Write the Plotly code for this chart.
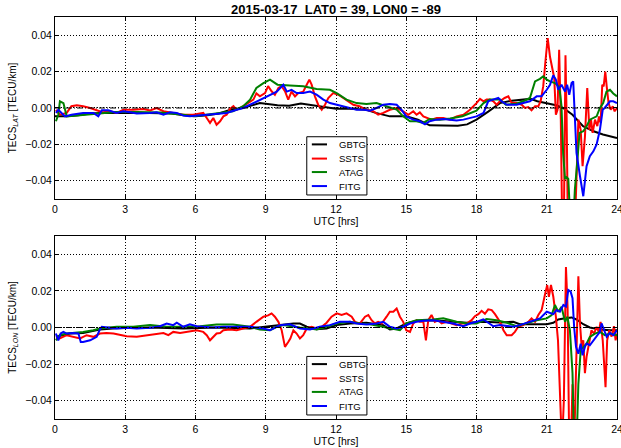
import plotly.graph_objects as go

# ---------------- data ----------------
TITLE = "2015-03-17\u00a0\u00a0LAT0 = 39, LON0 = -89"
SERIES = ["GBTG", "SSTS", "ATAG", "FITG"]
COLORS = ["#000000", "#ff0000", "#008000", "#0000ff"]
HOUR_TICKS = [0, 3, 6, 9, 12, 15, 18, 21, 24]
Y_TICKS = [-0.04, -0.02, 0.0, 0.02, 0.04]

# (UTC hour, TECS_LAT value)
LAT_GBTG = [(0.0, -0.0045), (0.5, -0.0045), (1.0, -0.004), (1.5, -0.003), (2.0, -0.0027), (3.0, -0.0025),
            (4.0, -0.0027), (5.0, -0.003), (5.5, -0.004), (6.0, -0.0045), (6.5, -0.004), (7.0, -0.003),
            (7.5, -0.001), (8.0, 0.0), (8.4, 0.0015), (8.75, 0.0027), (9.5, 0.0015), (10.0, 0.0012),
            (10.5, 0.0025), (11.2, 0.001), (12.0, -0.0004), (12.6, -0.0004), (13.3, -0.001), (13.7, -0.0027),
            (14.3, -0.0046), (15.0, -0.0046), (15.5, -0.0064), (16.0, -0.0095), (16.5, -0.0097),
            (17.2, -0.0097), (17.6, -0.009), (18.0, -0.0064), (18.5, -0.002), (19.0, 0.0027), (19.5, 0.004),
            (20.0, 0.0045), (20.3, 0.005), (20.6, 0.0037), (21.0, 0.0027), (21.4, 0.0015), (21.7, 0.0),
            (22.1, -0.0037), (22.55, -0.010), (23.0, -0.0128), (23.4, -0.0146), (24.0, -0.0165)]
LAT_SSTS = [(0.04, -0.001), (0.2, -0.0037), (0.5, -0.0027), (0.7, 0.001), (0.93, 0.0015), (1.2, 0.001),
            (1.5, 0.0), (1.78, -0.001), (2.06, -0.0024), (2.35, -0.0018), (2.63, -0.0027), (2.92, -0.001),
            (3.34, -0.001), (3.77, -0.0005), (4.06, -0.0013), (4.34, 0.0), (4.63, -0.0018), (5.05, -0.0027),
            (5.48, -0.0037), (5.9, -0.0037), (6.33, -0.0027), (6.48, -0.0055), (6.62, -0.0082),
            (6.76, -0.0055), (6.9, -0.0092), (7.05, -0.0073), (7.19, -0.0046), (7.33, -0.0037),
            (7.47, -0.0005), (7.62, 0.001), (7.76, -0.001), (8.04, 0.001), (8.33, 0.0037), (8.47, 0.0046),
            (8.6, 0.008), (8.75, 0.0064), (8.97, 0.0082), (9.1, 0.012), (9.25, 0.0092), (9.39, 0.0073),
            (9.54, 0.011), (9.68, 0.012), (9.82, 0.0092), (9.96, 0.0046), (10.1, 0.009), (10.25, 0.0064),
            (10.39, 0.0082), (10.6, 0.009), (10.75, 0.0128), (10.86, 0.0156), (10.96, 0.0128),
            (11.1, 0.0064), (11.24, 0.0018), (11.39, -0.001), (11.53, 0.0018), (11.67, 0.0055),
            (11.88, 0.0082), (12.1, 0.0073), (12.31, 0.0055), (12.52, 0.0037), (12.74, 0.0018),
            (13.0, 0.001), (13.3, -0.001), (13.59, -0.0018), (13.8, -0.0037), (14.02, -0.0027),
            (14.3, -0.001), (14.59, 0.0), (14.87, -0.0018), (15.09, -0.0037), (15.3, -0.0018),
            (15.44, -0.0037), (15.58, -0.0024), (15.73, -0.0046), (15.87, -0.0055), (16.08, -0.0064),
            (16.3, -0.0055), (16.58, -0.0055), (16.87, -0.0064), (17.15, -0.0046), (17.44, -0.0037),
            (17.72, -0.001), (18.0, 0.0027), (18.15, 0.005), (18.3, 0.0037), (18.43, 0.0046),
            (18.57, 0.0046), (18.72, 0.0037), (18.86, 0.0018), (19.0, 0.0037), (19.2, 0.0055),
            (19.36, 0.0064), (19.5, 0.0027), (19.71, 0.0027), (19.93, 0.0018), (20.07, 0.0), (20.21, 0.0005),
            (20.35, -0.0013), (20.5, 0.001), (20.64, 0.001), (20.74, 0.0037), (20.85, 0.012),
            (20.95, 0.0265), (21.04, 0.0384), (21.14, 0.028), (21.24, 0.021), (21.32, 0.0165),
            (21.39, -0.0037), (21.46, -0.001), (21.53, 0.032), (21.6, -0.006), (21.66, -0.065),
            (21.73, -0.065), (21.8, 0.029), (21.85, -0.006), (21.9, -0.065), (22.2, -0.065),
            (22.27, -0.039), (22.35, -0.0064), (22.45, -0.012), (22.53, -0.032), (22.63, -0.016),
            (22.73, 0.011), (22.82, -0.012), (22.89, -0.0064), (22.96, -0.0137), (23.06, -0.0064),
            (23.16, -0.010), (23.23, -0.0046), (23.3, -0.0082), (23.37, 0.0128), (23.43, 0.0119),
            (23.5, 0.020), (23.56, 0.0119), (23.64, 0.0027), (23.73, -0.001), (23.82, 0.0009),
            (23.9, -0.0018), (24.0, 0.0)]
LAT_ATAG = [(0.04, -0.0073), (0.14, -0.0037), (0.21, 0.0037), (0.36, 0.0027), (0.5, -0.0046), (0.8, -0.0042),
            (1.2, -0.004), (1.7, -0.003), (2.6, -0.0022), (3.5, -0.0022), (4.5, -0.0025), (5.48, -0.0037),
            (5.9, -0.0046), (6.3, -0.004), (7.2, -0.0027), (7.6, -0.0018), (8.04, 0.001), (8.33, 0.0046),
            (8.6, 0.011), (8.9, 0.0137), (9.18, 0.0156), (9.5, 0.0128), (10.03, 0.0124), (10.6, 0.012),
            (11.17, 0.0104), (11.74, 0.010), (12.03, 0.0082), (12.45, 0.0046), (12.88, 0.0027),
            (13.3, 0.0022), (13.73, 0.0027), (14.16, 0.001), (14.59, -0.0009), (14.87, -0.0046),
            (15.16, -0.0073), (15.44, -0.0073), (15.73, -0.0082), (16.0, -0.006), (16.44, -0.0064),
            (16.87, -0.0058), (17.4, -0.0045), (18.0, -0.0015), (18.3, 0.0027), (18.57, 0.0046),
            (19.0, 0.0046), (19.25, 0.0018), (19.7, 0.0024), (20.0, 0.0037), (20.28, 0.0055),
            (20.5, 0.0146), (20.71, 0.016), (20.85, 0.0174), (21.0, 0.0156), (21.14, 0.0146),
            (21.35, 0.0137), (21.5, 0.012), (21.56, 0.009), (21.63, 0.001), (21.7, -0.025), (21.78, -0.039),
            (21.85, -0.038), (21.92, -0.039), (22.02, -0.065), (22.13, -0.065), (22.2, -0.045),
            (22.3, -0.03), (22.4, -0.0137), (22.56, -0.0128), (22.7, -0.010), (22.84, -0.0064),
            (22.99, -0.0055), (23.13, -0.0046), (23.27, 0.0), (23.41, 0.0027), (23.55, 0.009),
            (23.7, 0.010), (23.84, 0.008), (24.0, 0.0064)]
LAT_FITG = [(0.04, -0.0027), (0.14, -0.001), (0.28, -0.0027), (0.43, -0.0046), (0.7, -0.0037), (0.93, -0.0033),
            (1.2, -0.0027), (1.64, -0.0027), (1.85, -0.0046), (2.0, -0.0013), (2.28, -0.0013),
            (2.63, -0.0027), (2.92, -0.0018), (3.2, -0.0024), (3.49, -0.003), (4.06, -0.0027),
            (4.34, -0.0024), (4.63, -0.0037), (4.91, -0.0024), (5.2, -0.0027), (5.48, -0.0042),
            (5.76, -0.0046), (6.05, -0.0042), (6.48, -0.0037), (6.9, -0.0033), (7.33, -0.0027),
            (7.76, -0.001), (8.04, 0.0), (8.33, 0.0018), (8.75, 0.0046), (9.18, 0.0073), (9.47, 0.009),
            (9.75, 0.0128), (9.9, 0.009), (10.1, 0.010), (10.32, 0.0082), (10.6, 0.0082), (10.89, 0.009),
            (11.17, 0.0073), (11.46, 0.0046), (11.74, 0.0027), (12.03, 0.0018), (12.31, 0.001),
            (12.6, 0.0), (12.88, -0.001), (13.2, -0.001), (13.45, -0.0015), (13.73, 0.0), (14.02, 0.0018),
            (14.3, 0.0022), (14.59, 0.0018), (14.8, -0.001), (15.0, -0.0046), (15.3, -0.0064),
            (15.58, -0.0073), (15.8, -0.009), (16.0, -0.0073), (16.3, -0.0064), (16.6, -0.006),
            (16.87, -0.0064), (17.15, -0.0069), (17.44, -0.0064), (17.72, -0.0055), (18.0, -0.0046),
            (18.3, -0.0027), (18.5, 0.0037), (18.7, 0.0046), (18.93, 0.0055), (19.07, 0.0037),
            (19.3, 0.0018), (19.71, 0.0018), (20.0, 0.0027), (20.28, 0.0037), (20.57, 0.0064),
            (20.78, 0.0064), (21.0, 0.010), (21.14, 0.0128), (21.28, 0.018), (21.39, 0.0156),
            (21.49, 0.010), (21.63, 0.0128), (21.78, 0.009), (21.87, 0.0128), (21.96, 0.0073),
            (22.06, 0.0137), (22.13, 0.0146), (22.2, -0.0064), (22.27, -0.0247), (22.42, -0.0375),
            (22.56, -0.0485), (22.7, -0.032), (22.84, -0.0265), (22.99, -0.0238), (23.13, -0.020),
            (23.27, -0.012), (23.39, -0.001), (23.47, 0.0), (23.56, 0.0013), (23.7, 0.0037),
            (23.84, 0.0037), (24.0, 0.0027)]

# (UTC hour, TECS_LON value)
LON_GBTG = [(0.04, -0.0051), (0.36, -0.0042), (0.64, -0.0033), (1.2, -0.003), (1.64, -0.0018), (1.92, -0.0011),
            (2.63, -0.0004), (3.34, 0.0), (4.06, 0.0), (5.48, -0.0005), (6.9, 0.0), (8.33, -0.0005),
            (8.9, 0.0004), (9.75, 0.0016), (10.18, 0.0022), (10.46, 0.0022), (10.75, 0.0004),
            (11.17, -0.0009), (11.6, -0.0005), (12.03, 0.0013), (12.6, 0.0022), (13.3, 0.0026),
            (14.02, 0.0013), (14.3, -0.0011), (14.59, -0.0005), (15.0, 0.0022), (15.44, 0.0037),
            (16.15, 0.004), (16.87, 0.0031), (17.58, 0.0026), (18.3, 0.0031), (19.0, 0.0028),
            (19.57, 0.0031), (19.85, 0.0018), (20.42, 0.0018), (21.0, 0.0018), (21.28, 0.0026),
            (21.49, 0.0044), (21.78, 0.005), (22.06, 0.0055), (22.27, 0.0044), (22.56, 0.0018),
            (22.84, 0.0), (23.27, -0.0011), (23.7, -0.0015), (24.0, -0.0015)]
LON_SSTS = [(0.04, -0.0055), (0.2, -0.006), (0.5, -0.0042), (0.78, -0.0051), (1.07, -0.006), (1.35, -0.0042),
            (1.64, -0.0051), (1.92, -0.0033), (2.2, -0.003), (2.5, -0.0033), (2.78, -0.0042),
            (3.06, -0.0048), (3.49, -0.0051), (3.91, -0.0042), (4.2, -0.0037), (4.63, -0.003),
            (4.84, -0.0042), (5.05, -0.0024), (5.34, -0.003), (5.62, -0.0024), (6.05, -0.0015),
            (6.33, -0.0024), (6.48, -0.0042), (6.62, -0.007), (6.76, -0.0051), (6.9, -0.0033),
            (7.05, -0.003), (7.19, -0.0015), (7.47, -0.0011), (7.76, -0.0015), (8.04, -0.0005),
            (8.33, 0.0004), (8.6, 0.0031), (8.9, 0.0059), (9.1, 0.0066), (9.25, 0.0077), (9.39, 0.0059),
            (9.54, 0.0031), (9.68, -0.0015), (9.82, -0.0106), (9.96, -0.0079), (10.05, -0.006),
            (10.18, -0.0015), (10.32, -0.0033), (10.46, -0.006), (10.6, -0.0042), (10.75, -0.0005),
            (10.96, 0.0004), (11.17, -0.0005), (11.39, 0.0004), (11.6, 0.0026), (11.81, 0.0059),
            (12.03, 0.0077), (12.24, 0.0068), (12.45, 0.0077), (12.67, 0.0059), (12.81, 0.0031),
            (13.02, 0.0022), (13.24, 0.0059), (13.38, 0.0068), (13.52, 0.004), (13.66, 0.0022),
            (13.8, 0.0031), (13.95, 0.0022), (14.16, 0.0059), (14.3, 0.0086), (14.45, 0.0086),
            (14.59, 0.0104), (14.73, 0.0059), (14.87, 0.0031), (15.0, -0.0015), (15.16, -0.0024),
            (15.3, 0.0022), (15.44, 0.004), (15.58, 0.0031), (15.73, 0.0031), (15.84, -0.007),
            (15.94, 0.004), (16.08, 0.0068), (16.22, 0.0031), (16.37, 0.004), (16.51, 0.0022),
            (16.72, 0.0031), (16.94, 0.0022), (17.15, 0.0013), (17.37, 0.0022), (17.58, 0.0022),
            (17.79, 0.004), (17.93, 0.0062), (18.08, 0.0073), (18.22, 0.0091), (18.36, 0.0075),
            (18.5, 0.0099), (18.65, 0.0095), (18.79, 0.0073), (19.0, 0.0031), (19.15, -0.0015),
            (19.29, -0.0042), (19.5, -0.0042), (19.64, -0.0024), (19.78, 0.0004), (20.0, 0.0013),
            (20.21, 0.0031), (20.35, 0.005), (20.5, 0.0031), (20.64, 0.0068), (20.78, 0.0095),
            (20.92, 0.0178), (21.02, 0.0232), (21.09, 0.0168), (21.18, 0.0232), (21.28, 0.0168),
            (21.39, 0.0059), (21.48, -0.007), (21.56, -0.029), (21.65, -0.065), (21.73, -0.04),
            (21.82, 0.033), (21.89, 0.011), (21.96, -0.065), (22.03, -0.065), (22.1, -0.031),
            (22.17, -0.065), (22.27, -0.0073), (22.35, 0.028), (22.42, 0.0022), (22.49, -0.0106),
            (22.56, -0.007), (22.63, -0.025), (22.7, -0.016), (22.82, -0.007), (22.91, -0.0015),
            (23.02, -0.0033), (23.13, 0.0004), (23.22, -0.0024), (23.3, 0.0031), (23.39, -0.007),
            (23.46, -0.025), (23.51, -0.0326), (23.58, -0.007), (23.67, -0.0015), (23.77, -0.005),
            (23.87, 0.0007), (23.94, -0.007), (24.0, -0.0033)]
LON_ATAG = [(0.04, -0.007), (0.2, -0.0042), (0.5, -0.0033), (0.93, -0.003), (1.2, -0.0024), (1.64, -0.0015),
            (1.92, -0.0005), (2.63, 0.0004), (3.34, 0.0004), (4.06, 0.0013), (4.77, 0.0004), (5.48, 0.0004),
            (6.2, 0.0007), (6.9, 0.0016), (7.6, 0.0016), (8.33, 0.0004), (8.75, -0.0011), (9.18, -0.0015),
            (9.47, 0.0004), (9.75, 0.0013), (10.03, 0.0007), (10.46, 0.0), (10.89, -0.0005),
            (11.17, -0.0011), (11.6, 0.0004), (12.03, 0.0022), (12.6, 0.0031), (13.02, 0.0022),
            (13.45, 0.0018), (14.02, 0.0004), (14.3, -0.0005), (14.73, -0.0015), (15.0, 0.0022),
            (15.44, 0.004), (16.15, 0.0044), (16.58, 0.005), (17.15, 0.0031), (17.58, 0.0022),
            (18.0, 0.0022), (18.43, 0.0046), (18.86, 0.004), (19.3, 0.0026), (19.71, 0.0007),
            (20.14, 0.0022), (20.57, 0.004), (21.0, 0.005), (21.21, 0.0068), (21.35, 0.0123),
            (21.49, 0.0086), (21.63, 0.0113), (21.78, 0.0031), (21.88, 0.0059), (21.99, -0.0015),
            (22.1, -0.025), (22.17, -0.065), (22.27, -0.065), (22.35, -0.031), (22.45, -0.0124),
            (22.56, -0.0106), (22.7, -0.0088), (22.84, -0.0051), (23.06, -0.0033), (23.27, -0.0024),
            (23.48, -0.0042), (23.7, -0.0033), (24.0, -0.0042)]
LON_FITG = [(0.04, -0.0033), (0.14, -0.007), (0.24, -0.0033), (0.36, -0.0024), (0.5, -0.0033), (0.78, -0.003),
            (1.0, -0.0033), (1.1, -0.0079), (1.2, -0.0079), (1.5, -0.007), (1.78, -0.0051), (1.9, -0.0015),
            (2.0, 0.0004), (2.35, -0.0002), (2.63, -0.0005), (3.06, -0.0002), (3.49, -0.0005),
            (4.06, -0.0002), (4.48, 0.0007), (4.77, 0.0022), (5.05, 0.0013), (5.2, 0.0026), (5.48, 0.0004),
            (5.76, 0.0018), (6.05, 0.0007), (6.33, 0.0004), (6.76, 0.0), (7.2, 0.0004), (7.76, 0.0004),
            (8.33, 0.0004), (8.9, -0.0005), (9.18, -0.0015), (9.61, 0.0013), (10.03, 0.0018),
            (10.46, -0.0005), (10.89, -0.0011), (11.3, 0.0004), (11.74, 0.0013), (12.17, 0.0031),
            (12.6, 0.0031), (12.88, 0.0022), (13.3, 0.0016), (13.73, 0.0022), (14.02, 0.0031),
            (14.3, 0.0004), (14.59, -0.0005), (14.87, 0.0004), (15.16, 0.0022), (15.44, 0.0031),
            (15.73, 0.0037), (16.15, 0.004), (16.58, 0.0031), (17.0, 0.0022), (17.44, 0.0007),
            (17.72, 0.0022), (18.0, 0.0031), (18.29, 0.0044), (18.5, 0.0026), (18.72, 0.0007),
            (19.0, 0.0013), (19.29, 0.0007), (19.57, 0.0004), (19.85, 0.0013), (20.28, 0.0031),
            (20.71, 0.005), (21.0, 0.0086), (21.14, 0.008), (21.28, 0.0073), (21.42, 0.0095),
            (21.56, 0.0086), (21.71, 0.0123), (21.82, 0.0114), (21.92, 0.0205), (22.02, 0.0196),
            (22.1, 0.016), (22.17, 0.0), (22.25, -0.0106), (22.35, -0.0143), (22.45, -0.0088),
            (22.53, -0.0152), (22.63, -0.0106), (22.7, -0.0088), (22.84, -0.0097), (22.99, -0.007),
            (23.13, -0.0051), (23.27, -0.0024), (23.34, 0.0022), (23.44, -0.0015), (23.56, -0.0051),
            (23.7, -0.0029), (23.84, -0.0042), (24.0, -0.0015)]

PANELS = [
    ("x", "y", "TECS<sub><i>LAT</i></sub> [TECU/km]", [LAT_GBTG, LAT_SSTS, LAT_ATAG, LAT_FITG]),
    ("x2", "y2", "TECS<sub><i>LON</i></sub> [TECU/km]", [LON_GBTG, LON_SSTS, LON_ATAG, LON_FITG]),
]

FONT = "Liberation Sans, Arial, Helvetica, sans-serif"

fig = go.Figure()
for xa, ya, _, series in PANELS:
    for name, color, data in zip(SERIES, COLORS, series):
        t = [p[0] for p in data]
        v = [p[1] for p in data]
        fig.add_trace(go.Scatter(x=t, y=v, mode="lines", name=name, showlegend=False,
                                 line=dict(color=color, width=2), xaxis=xa, yaxis=ya,
                                 hoverinfo="skip"))

def xaxis_cfg(anchor):
    return dict(domain=[0, 1], anchor=anchor, range=[0, 24], tickvals=HOUR_TICKS,
                ticks="inside", ticklen=4, tickcolor="black", tickwidth=1,
                showline=True, linecolor="black", linewidth=1, mirror="ticks",
                showgrid=True, gridcolor="black", gridwidth=0.7, griddash="1px,2px",
                zeroline=False, tickfont=dict(size=10.5, color="black"),
                ticklabeloverflow="allow", automargin=False,
                title=dict(text="UTC [hrs]", font=dict(size=10.5, color="black"), standoff=3))

def yaxis_cfg(anchor, domain, title):
    return dict(domain=domain, anchor=anchor, range=[-0.05, 0.05], tickvals=Y_TICKS,
                tickformat=".2f", ticks="inside", ticklen=4, tickcolor="black", tickwidth=1,
                showline=True, linecolor="black", linewidth=1, mirror="ticks",
                showgrid=True, gridcolor="black", gridwidth=0.7, griddash="1px,2px",
                zeroline=False, tickfont=dict(size=10.5, color="black"), automargin=False,
                title=dict(text=title, font=dict(size=10, color="black"), standoff=6))

fig.update_layout(
    width=621, height=448,
    margin=dict(l=55, r=4, t=17, b=29, autoexpand=False),
    paper_bgcolor="white", plot_bgcolor="white",
    font=dict(family=FONT, color="black"),
    title=dict(text="<b>" + TITLE + "</b>", x=0.5, xref="paper", xanchor="center",
               y=1 - 9.5 / 448, yref="container", yanchor="middle",
               font=dict(size=13, color="black", family=FONT)),
    xaxis=xaxis_cfg("y"),
    yaxis=yaxis_cfg("x", [0.5473, 1.0], PANELS[0][2]),
    xaxis2=xaxis_cfg("y2"),
    yaxis2=yaxis_cfg("x2", [0.0, 0.4552], PANELS[1][2]),
    showlegend=False,
)

# zero reference lines (dash-dot) and hand-made legends
ROW_Y = [0.300, 0.222, 0.148, 0.071]
for xa, ya, _, _ in PANELS:
    xd, yd = xa + " domain", ya + " domain"
    fig.add_shape(type="line", xref=xd, yref=ya, x0=0, x1=1, y0=0, y1=0,
                  line=dict(color="black", width=1, dash="6px,2px,1px,2px"))
    fig.add_shape(type="rect", xref=xd, yref=yd, x0=0.448, x1=0.555, y0=0.022, y1=0.342,
                  fillcolor="white", line=dict(color="black", width=1))
    for name, color, ry in zip(SERIES, COLORS, ROW_Y):
        fig.add_shape(type="line", xref=xd, yref=yd, x0=0.457, x1=0.484, y0=ry, y1=ry,
                      line=dict(color=color, width=2))
        fig.add_annotation(xref=xd, yref=yd, x=0.502, y=ry, text=name, showarrow=False,
                           xanchor="left", yanchor="middle",
                           font=dict(size=9.5, color="black", family=FONT))

fig.write_html("out.html", config={"displayModeBar": False},
               post_script="document.body.style.margin='0';document.body.style.padding='0';")
